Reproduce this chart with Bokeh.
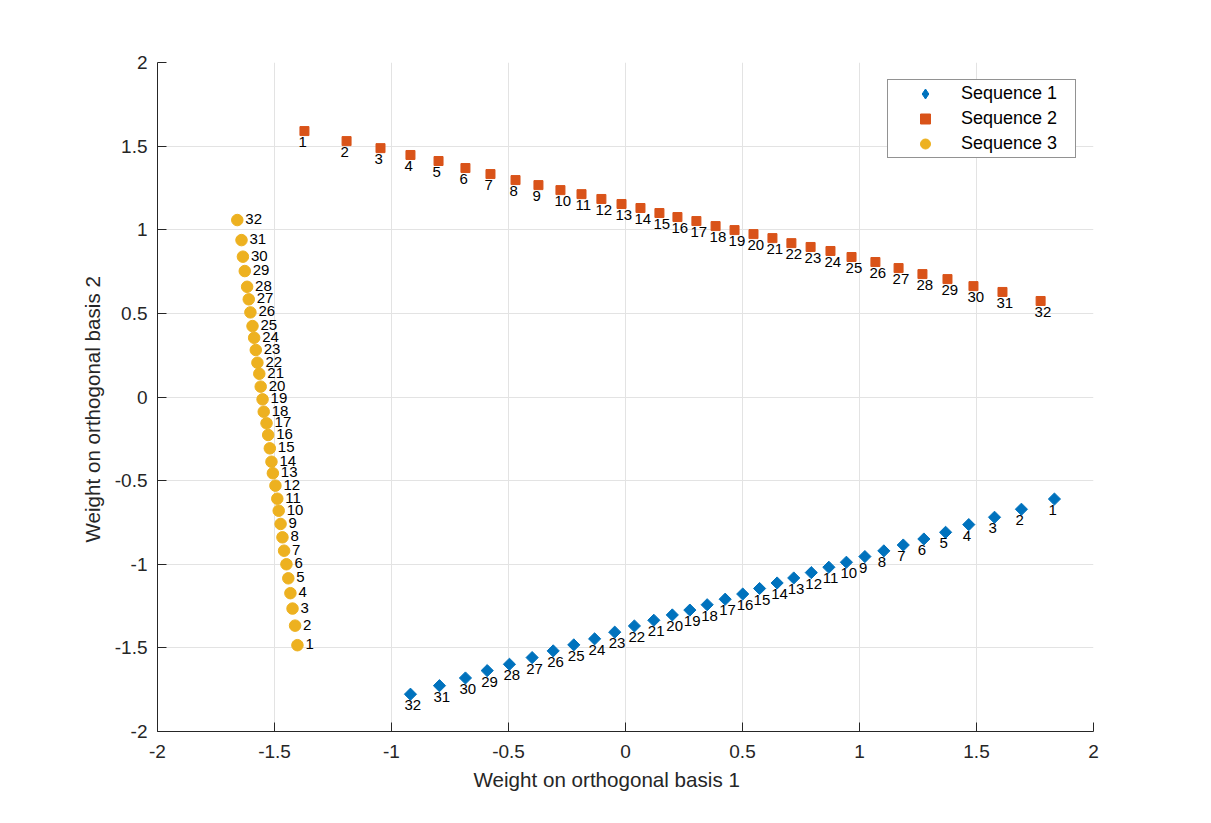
import math
from bokeh.plotting import figure
from bokeh.models import (ColumnDataSource, FixedTicker, CustomJSTickFormatter, Range1d,
                          Legend, LegendItem, Title)
from bokeh.core.properties import value
from bokeh.embed import file_html
from bokeh.resources import INLINE

# ---- data ----
labels = [str(i) for i in range(1, 33)]

seq1_x = [1.833, 1.692, 1.577, 1.467, 1.368, 1.275, 1.187, 1.104, 1.023, 0.944,
          0.869, 0.794, 0.719, 0.648, 0.573, 0.501, 0.426, 0.349, 0.275, 0.200,
          0.121, 0.038, -0.046, -0.132, -0.221, -0.309, -0.399, -0.496, -0.591,
          -0.684, -0.795, -0.919]
seq1_y = [-0.610, -0.671, -0.719, -0.763, -0.809, -0.849, -0.885, -0.920, -0.954,
          -0.988, -1.018, -1.050, -1.082, -1.112, -1.145, -1.178, -1.209, -1.242,
          -1.274, -1.303, -1.335, -1.369, -1.406, -1.446, -1.482, -1.518, -1.558,
          -1.598, -1.636, -1.680, -1.726, -1.777]

seq2_x = [-1.372, -1.192, -1.047, -0.919, -0.799, -0.684, -0.577, -0.470, -0.372,
          -0.278, -0.188, -0.103, -0.017, 0.064, 0.145, 0.222, 0.303, 0.385, 0.466,
          0.547, 0.628, 0.709, 0.791, 0.876, 0.966, 1.068, 1.167, 1.269, 1.376,
          1.487, 1.611, 1.774]
seq2_y = [1.590, 1.530, 1.488, 1.447, 1.411, 1.369, 1.333, 1.297, 1.267, 1.237,
          1.213, 1.184, 1.154, 1.130, 1.100, 1.076, 1.052, 1.022, 0.998, 0.974,
          0.950, 0.920, 0.897, 0.873, 0.837, 0.807, 0.771, 0.735, 0.705, 0.663,
          0.628, 0.574]

seq3_x = [-1.402, -1.412, -1.423, -1.432, -1.441, -1.449, -1.459, -1.466, -1.474,
          -1.482, -1.488, -1.496, -1.507, -1.513, -1.520, -1.527, -1.534, -1.546,
          -1.551, -1.559, -1.565, -1.573, -1.580, -1.587, -1.594, -1.603, -1.610,
          -1.617, -1.627, -1.635, -1.641, -1.659]
seq3_y = [-1.484, -1.367, -1.265, -1.173, -1.084, -1.000, -0.919, -0.839, -0.759,
          -0.680, -0.608, -0.530, -0.456, -0.387, -0.307, -0.227, -0.157, -0.088,
          -0.014, 0.062, 0.139, 0.205, 0.281, 0.354, 0.424, 0.506, 0.584, 0.659,
          0.753, 0.839, 0.938, 1.058]

series_names = ["Sequence 1", "Sequence 2", "Sequence 3"]
x_ticks = [-2, -1.5, -1, -0.5, 0, 0.5, 1, 1.5, 2]
y_ticks = [-2, -1.5, -1, -0.5, 0, 0.5, 1, 1.5, 2]
x_label = "Weight on orthogonal basis 1"
y_label = "Weight on orthogonal basis 2"

# ---- styling ----
FONT = "Liberation Sans"
AX = "#262626"
C1, C2, C3 = "#0072BD", "#D95319", "#EDB120"

p = figure(frame_width=936, frame_height=669,
           min_border_left=157, min_border_right=118,
           min_border_top=62, min_border_bottom=92,
           x_range=Range1d(-2, 2), y_range=Range1d(-2, 2),
           output_backend="svg", toolbar_location=None,
           background_fill_color="white", border_fill_color="white")
p.outline_line_color = None

fmt = CustomJSTickFormatter(code="return tick.toString();")
for ax, ticks in ((p.xaxis[0], x_ticks), (p.yaxis[0], y_ticks)):
    ax.ticker = FixedTicker(ticks=ticks)
    ax.formatter = fmt
    ax.axis_line_color = AX
    ax.major_tick_line_color = AX
    ax.major_tick_in = 9
    ax.major_tick_out = 0
    ax.minor_tick_line_color = None
    ax.major_label_text_font = FONT
    ax.major_label_text_font_size = "19px"
    ax.major_label_text_color = AX

p.xaxis.major_label_standoff = 13
p.yaxis.major_label_standoff = 10

# axis titles (placed like the reference, slightly toward their start)
p.add_layout(Title(text=x_label, align="left", offset=316, standoff=11,
                   text_font=FONT, text_font_size="20.6px", text_font_style="normal",
                   text_color=AX), "below")
p.add_layout(Title(text=y_label, align="left", offset=189, standoff=16,
                   text_font=FONT, text_font_size="20.6px", text_font_style="normal",
                   text_color=AX), "left")

for g in (p.xgrid[0], p.ygrid[0]):
    g.grid_line_color = "#e3e3e3"
    g.grid_line_width = 1
p.xgrid[0].ticker = FixedTicker(ticks=x_ticks)
p.ygrid[0].ticker = FixedTicker(ticks=y_ticks)

s1 = ColumnDataSource(dict(x=seq1_x, y=seq1_y, t=labels))
s2 = ColumnDataSource(dict(x=seq2_x, y=seq2_y, t=labels))
s3 = ColumnDataSource(dict(x=seq3_x, y=seq3_y, t=labels))

r1 = p.scatter("x", "y", source=s1, marker="square", angle=math.pi / 4, size=8.6,
               fill_color=C1, line_color=C1)
r2 = p.scatter("x", "y", source=s2, marker="square", size=9,
               fill_color=C2, line_color=C2)
r3 = p.scatter("x", "y", source=s3, marker="circle", size=11.5,
               fill_color=C3, line_color=C3)
# legend-only glyph for the diamond series (no visible point on the plot)
leg_src = ColumnDataSource(dict(x=[float("nan")], y=[float("nan")]))
r1_leg = p.scatter("x", "y", source=leg_src, marker="diamond", size=8.6,
                   fill_color=C1, line_color=C1)

common = dict(text="t", text_font=value(FONT), text_font_size="15px", text_color="black")
p.text("x", "y", source=s1, text_align="left", text_baseline="top",
       x_offset=-6, y_offset=6, **common)
p.text("x", "y", source=s2, text_align="left", text_baseline="top",
       x_offset=-6, y_offset=6, **common)
p.text("x", "y", source=s3, text_align="left", text_baseline="middle",
       x_offset=8, y_offset=-1, **common)

legend = Legend(items=[LegendItem(label=series_names[0], renderers=[r1_leg]),
                       LegendItem(label=series_names[1], renderers=[r2]),
                       LegendItem(label=series_names[2], renderers=[r3])],
                location="top_right", margin=17)
legend.padding = 1
legend.spacing = 0
legend.glyph_width = 72
legend.glyph_height = 25
legend.label_height = 25
legend.label_width = 113
legend.label_standoff = 0
legend.label_text_font = FONT
legend.label_text_font_size = "18px"
legend.label_text_color = "black"
legend.border_line_color = AX
legend.border_line_width = 1
legend.background_fill_color = "white"
legend.background_fill_alpha = 1
p.add_layout(legend)

open("out.html", "w").write(file_html(p, INLINE))
